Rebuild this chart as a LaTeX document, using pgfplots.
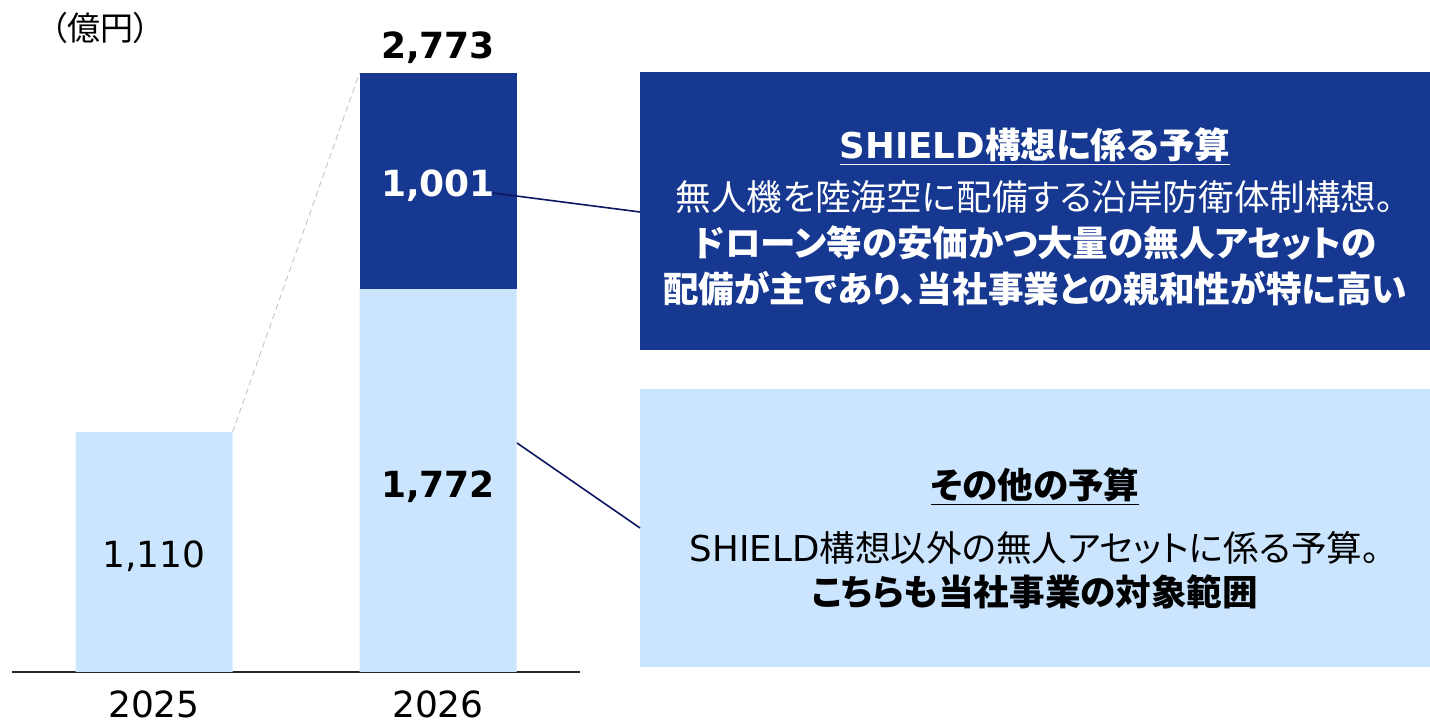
\documentclass[border=0pt]{standalone}
\usepackage{fontspec}
\setmainfont{DejaVu Sans}
\newfontfamily\cjk[RawFeature=+palt]{Noto Sans CJK JP}
\usepackage{pgfplots}
\pgfplotsset{compat=1.18}
\definecolor{shield}{HTML}{173891}
\definecolor{other}{HTML}{CCE5FF}
\definecolor{leader}{HTML}{0D1660}
\newcommand\numfont{\fontsize{18}{18}\selectfont}
\newcommand\jp{\fontsize{17.8}{17.8}\selectfont}

\begin{document}
\begin{tikzpicture}[x=1pt,y=1pt]
\useasboundingbox (-6,-27) rectangle (709,336);
\begin{axis}[
  at={(0,0)}, anchor=south west,
  scale only axis, width=284pt, height=324pt,
  xmin=-0.5, xmax=1.5, ymin=0, ymax=3000,
  ybar stacked, bar width=78.5pt,
  axis x line*=bottom, axis y line=none,
  x axis line style={-, line width=1pt, color=black!85},
  xtick={0,1}, xticklabels={{\numfont 2025},{\numfont 2026}},
  major tick length=0pt,
  /pgf/number format/assume math mode=true,
  xticklabel style={font=\numfont, yshift=-6pt},
  clip=false,
]
\addplot[fill=other, draw=none] coordinates {(0,1110) (1,1772)};
\addplot[fill=shield, draw=none] coordinates {(0,0) (1,1001)};
\draw[gray!50, densely dashed, thin] (axis cs:0.2765,1110) -- (axis cs:0.7235,2773);
\coordinate (v2025) at (axis cs:0,555);
\coordinate (vother) at (axis cs:1,886);
\coordinate (vshield) at (axis cs:1,2272);
\coordinate (vtotal) at (axis cs:1,2773);
\end{axis}
% bar values
\node[font=\numfont, yshift=-2pt] at (v2025) {1,110};
\node[font=\numfont\bfseries, yshift=-3pt] at (vother) {1,772};
\node[white, font=\numfont\bfseries, yshift=-2pt] at (vshield) {1,001};
\node[font=\numfont\bfseries, anchor=south, yshift=1pt] at (vtotal) {2,773};
% unit label
\node[font=\cjk\fontsize{16.5}{16.5}\selectfont, anchor=west] at (16,322) {（億円）};
% callout boxes
\fill[shield] (314,161) rectangle (709,300);
\fill[other] (314,2.5) rectangle (709,141.5);
\draw[leader, line width=0.8pt] (240.5,239.5) -- (314,230);
\draw[leader, line width=0.8pt] (252.5,114.5) -- (314,72);
\node[white, font=\jp\bfseries] at (511.5,262.5) {\underline{SHIELD\cjk 構想に係る予算}};
\node[white, font=\jp] at (511.5,237.5) {\cjk 無人機を陸海空に配備する沿岸防衛体制構想。};
\node[white, font=\jp\bfseries] at (511.5,214.5) {\cjk ドローン等の安価かつ大量の無人アセットの};
\node[white, font=\jp\bfseries] at (511.5,191.5) {\cjk 配備が主であり、当社事業との親和性が特に高い};
\node[black, font=\jp\bfseries] at (511.5,92.5) {\underline{\cjk その他の予算}};
\node[black, font=\jp] at (511.5,62) {SHIELD\cjk 構想以外の無人アセットに係る予算。};
\node[black, font=\jp\bfseries] at (511.5,40) {\cjk こちらも当社事業の対象範囲};
\end{tikzpicture}
\end{document}
